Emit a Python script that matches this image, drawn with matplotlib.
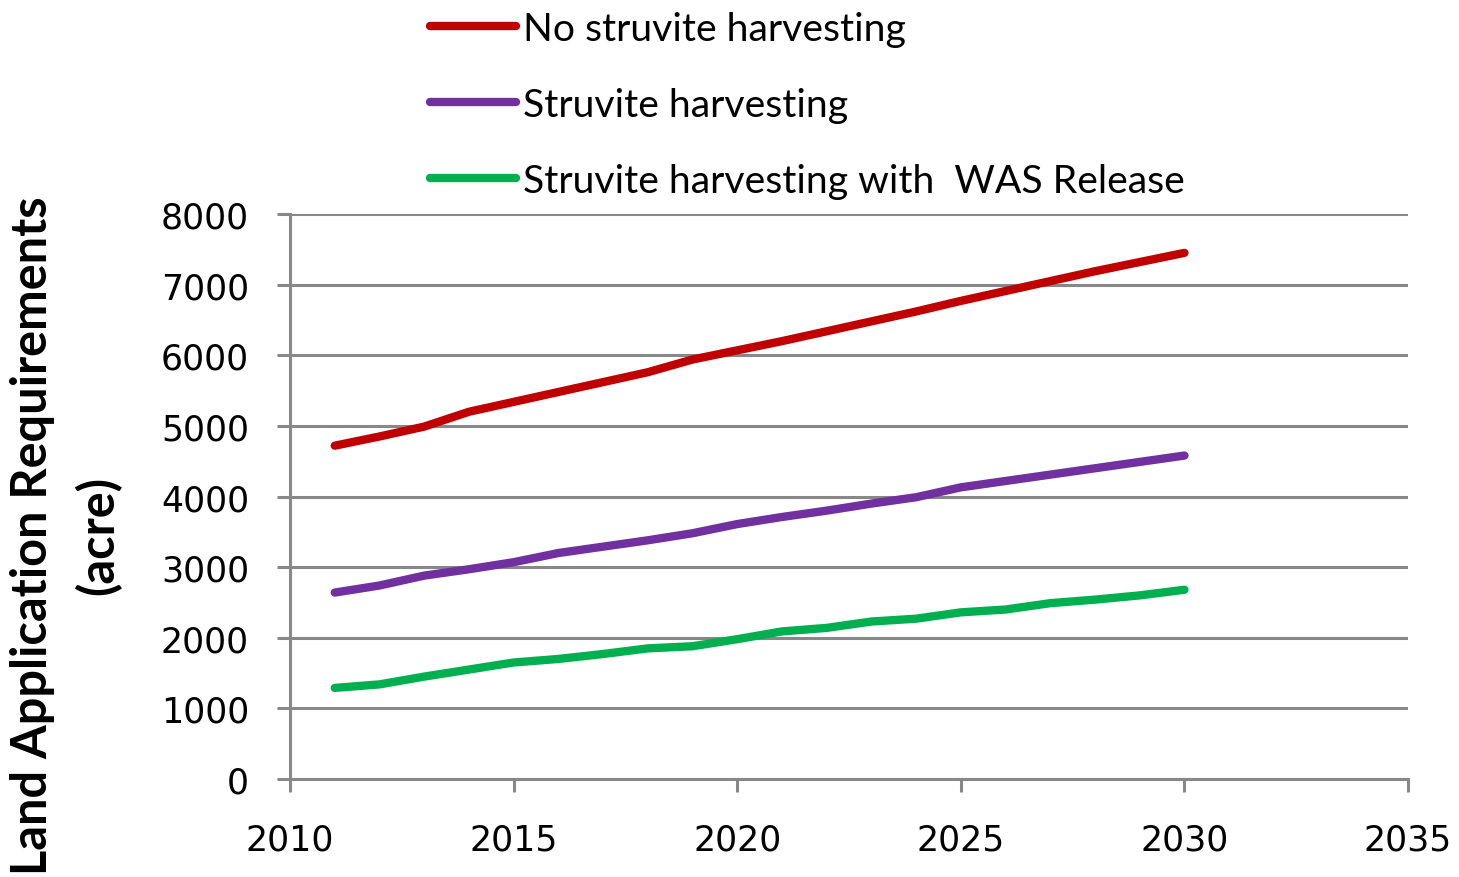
import matplotlib.pyplot as plt

years = list(range(2011, 2031))
no_struvite = [4720, 4850, 4990, 5200, 5340, 5480, 5620, 5760, 5940, 6070,
               6200, 6340, 6480, 6620, 6770, 6910, 7050, 7190, 7320, 7450]
struvite = [2640, 2740, 2880, 2970, 3070, 3200, 3290, 3380, 3480, 3610,
            3710, 3800, 3900, 3990, 4130, 4220, 4310, 4400, 4490, 4580]
struvite_was = [1290, 1340, 1450, 1550, 1650, 1700, 1770, 1850, 1880, 1980,
                2090, 2140, 2230, 2270, 2360, 2400, 2490, 2540, 2600, 2680]

labels = ["No struvite harvesting", "Struvite harvesting",
          "Struvite harvesting with  WAS Release"]
colors = ["#C00000", "#7030A0", "#00B050"]

fig = plt.figure(figsize=(14.59, 8.78), dpi=100)
ax = fig.add_axes([0.1988, 0.1116, 0.7663, 0.6435])

for vals, lab, col in zip([no_struvite, struvite, struvite_was], labels, colors):
    ax.plot(years, vals, color=col, lw=6, label=lab, solid_capstyle='round')

ax.set_xlim(2010, 2035)
ax.set_ylim(0, 8000)
ax.set_xticks(range(2010, 2036, 5))
ax.set_yticks(range(0, 8001, 1000))
ax.grid(axis='y', color='#888888', lw=2.2)
ax.set_axisbelow(True)
for s in ['top', 'right']:
    ax.spines[s].set_visible(False)
for s in ['left', 'bottom']:
    ax.spines[s].set_color('#888888')
    ax.spines[s].set_linewidth(2.2)
ax.tick_params(axis='y', direction='out', length=9.5, width=2.2, color='#888888',
               labelsize=25, pad=20)
ax.tick_params(axis='x', direction='out', length=9, width=2.2, color='#888888',
               labelsize=25, pad=22)

fig.text(66 / 1459, 1 - 536 / 878, "Land Application Requirements\n(acre)",
         rotation=90, ha='center', va='center', multialignment='center',
         fontsize=35, fontweight='bold', family='Lato', linespacing=1.5)

leg = ax.legend(loc='upper left', bbox_to_anchor=(426 / 1459, 0.991),
                bbox_transform=fig.transFigure, frameon=False,
                prop={'family': 'Lato', 'size': 28.2}, handlelength=2.2,
                handletextpad=0.18, labelspacing=1.02, borderaxespad=0.0,
                borderpad=0.1)

plt.savefig("out.png", dpi=100)
